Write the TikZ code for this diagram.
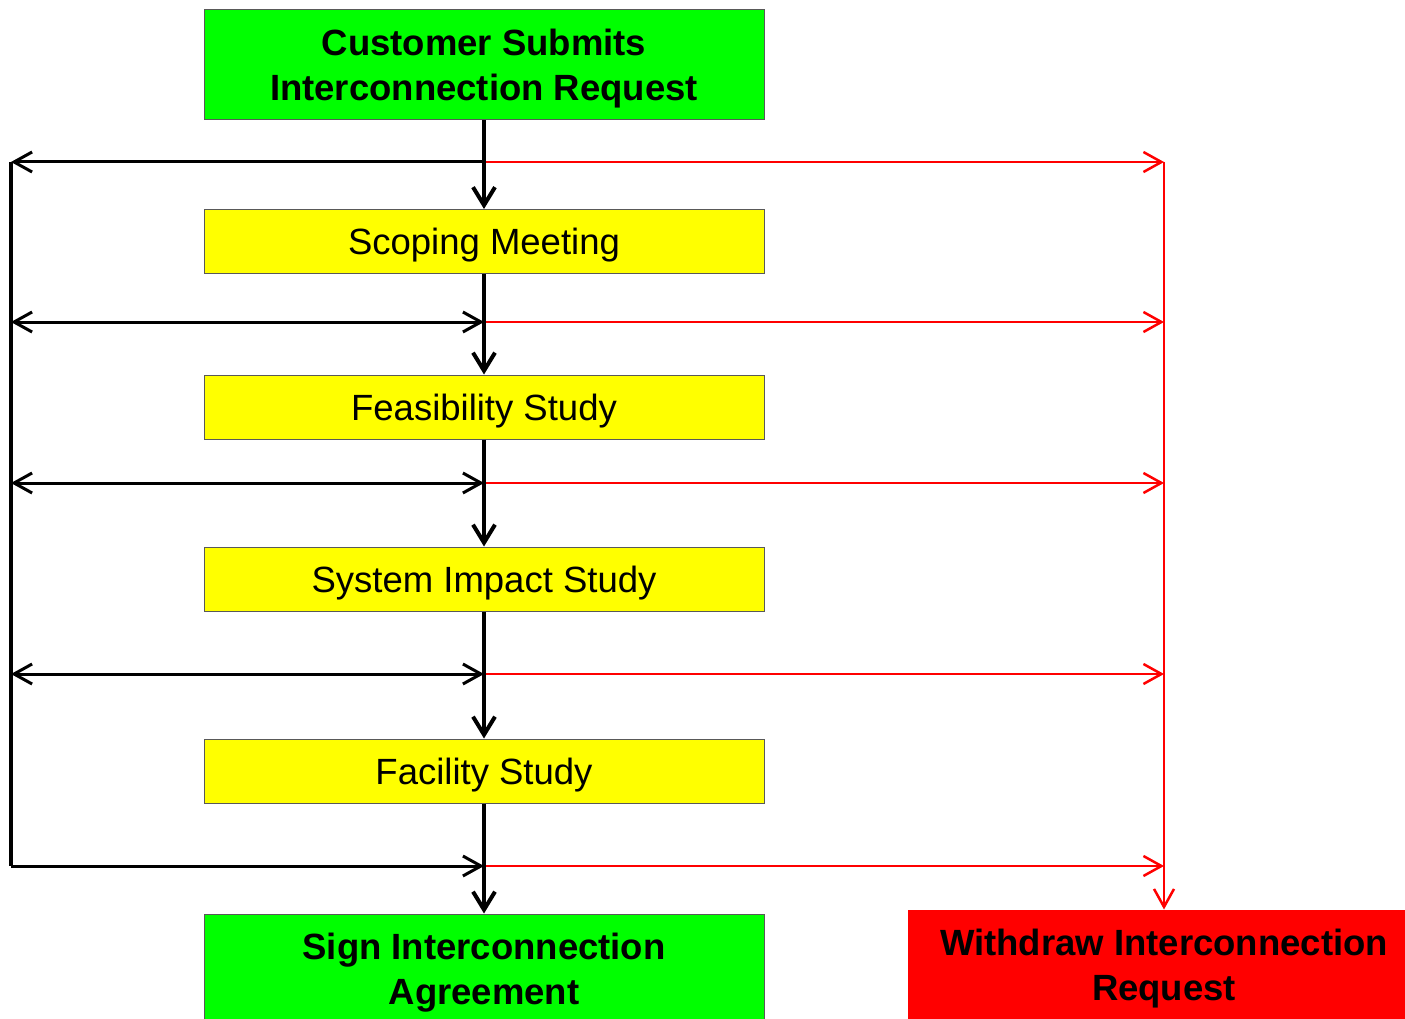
\documentclass[tikz,border=0pt]{standalone}
\usepackage{fontspec}
\setmainfont{Liberation Sans}
\usetikzlibrary{arrows.meta}
\definecolor{stepyellow}{RGB}{255,255,0}

\begin{document}
\begin{tikzpicture}[x=1pt,y=-1pt,
    >={Straight Barb[length=18pt,width=20pt]},
    stepbox/.style={draw=black!65, line width=1pt, fill=stepyellow, minimum width=560pt,
        minimum height=64pt, inner sep=0pt, text height=34.6pt, text depth=7.7pt,
        font=\fontsize{36.5}{44}\selectfont},
    endbox/.style={stepbox, fill=green, minimum height=110pt, align=center,
        text height=79.6pt, text depth=7.7pt, font=\fontsize{36.5}{45}\selectfont\bfseries},
    flow/.style={line width=4pt, -{Straight Barb[length=18pt,width=22pt]}},
    back/.style={line width=3pt},
    wd/.style={red, line width=2.5pt, ->}]
    \useasboundingbox (0,0) rectangle (1405,1019);
    \clip (0,0) rectangle (1405,1019);

    % steps
    \node[endbox] (submit) at (484,65) {Customer Submits\\Interconnection Request};
    \node[stepbox] (scoping) at (484,241.5) {Scoping Meeting};
    \node[stepbox] (feas) at (484,407) {Feasibility Study};
    \node[stepbox] (impact) at (484,579) {System Impact Study};
    \node[stepbox] (facility) at (484,771) {Facility Study};
    \node[endbox] (sign) at (484,969) {Sign Interconnection\\Agreement};
    \node[endbox, fill=red, draw=none, minimum width=512pt] (withdraw) at (1164,965)
        {Withdraw Interconnection\\Request};

    \foreach \i/\y in {1/162,2/322,3/483,4/674,5/866} {
        \coordinate (j\i) at (484,\y);
        \coordinate (l\i) at (11,\y);
        \coordinate (r\i) at (1164,\y);
    }

    % withdraw branch
    \foreach \i in {1,...,5}
        \draw[wd] (j\i) -- (r\i);
    \draw[wd] (r1) -- (withdraw.north);

    % loop back
    \draw[back, ->] (j1) -- (l1);
    \foreach \i in {2,3,4}
        \draw[back, <->] (l\i) -- (j\i);
    \draw[back, line width=4pt] (l1) -- (l5);
    \draw[back, ->] (l5) -- (j5);

    % main flow
    \foreach \a/\b in {submit/scoping,scoping/feas,feas/impact,impact/facility,facility/sign}
        \draw[flow] (\a.south) -- (\b.north);
\end{tikzpicture}
\end{document}
